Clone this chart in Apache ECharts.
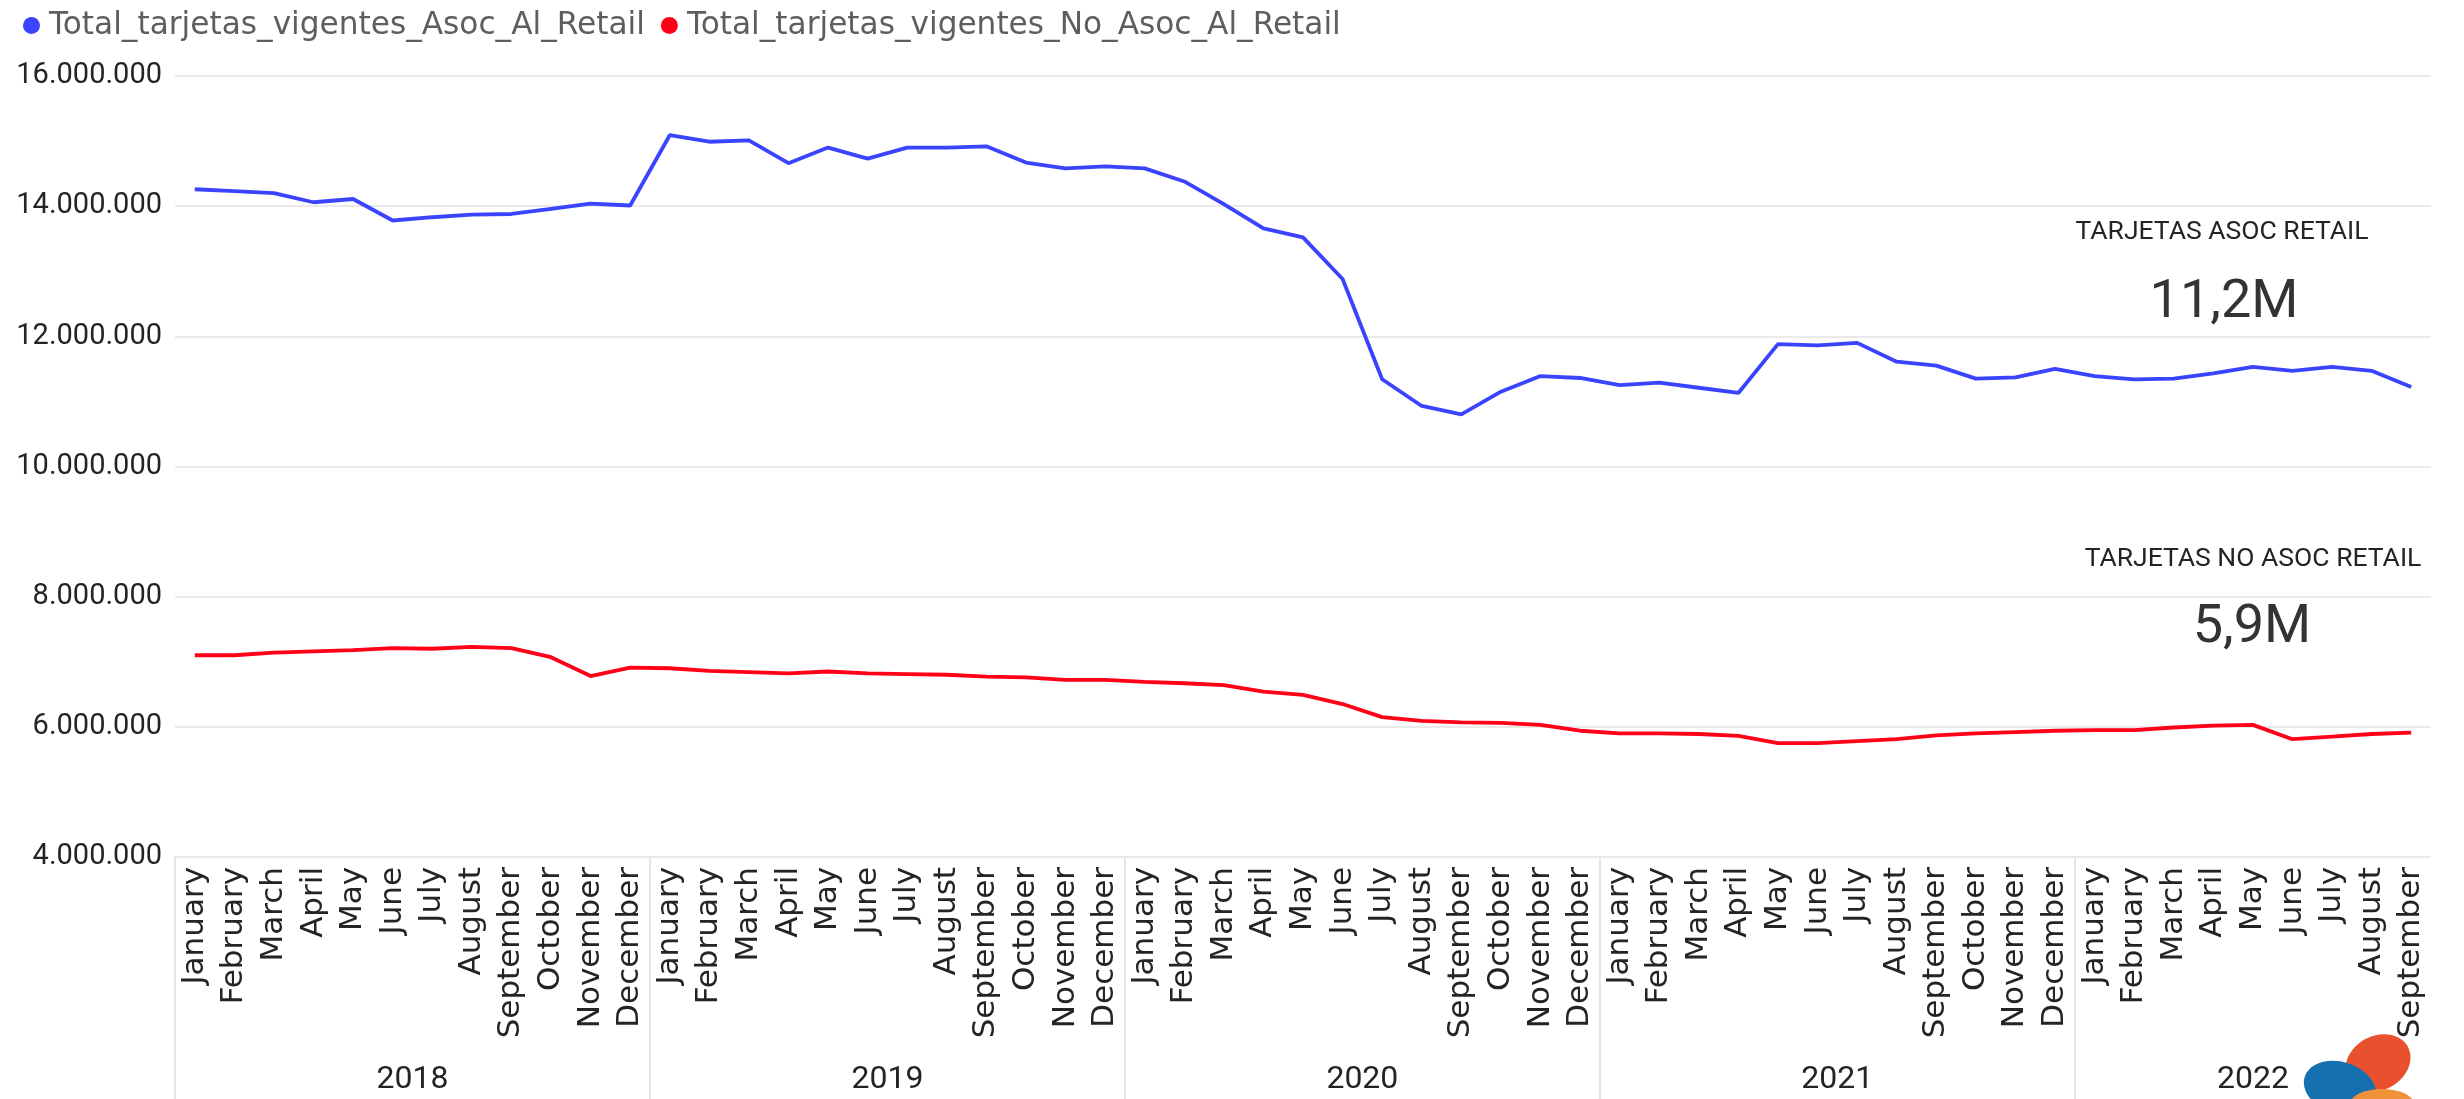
<!DOCTYPE html>
<html>
<head>
<meta charset="utf-8">
<script src="https://cdn.jsdelivr.net/npm/echarts@6/dist/echarts.min.js"></script>
<style>
  html, body { margin: 0; padding: 0; background: #fff; }
  #main { width: 2464px; height: 1099px; }
</style>
</head>
<body>
<div id="main"></div>
<script>
// datos (Jan 2018 - Sep 2022)
var monthNames = ["January", "February", "March", "April", "May", "June", "July",
  "August", "September", "October", "November", "December"];
var years = ["2018", "2019", "2020", "2021", "2022"];
var monthsPerYear = [12, 12, 12, 12, 9];

var asocRetail = [
  14260000, 14230000, 14200000, 14060000, 14110000, 13780000, 13830000, 13870000, 13880000, 13960000, 14040000, 14010000,
  15090000, 14990000, 15010000, 14660000, 14900000, 14730000, 14900000, 14900000, 14920000, 14670000, 14580000, 14610000,
  14580000, 14380000, 14030000, 13660000, 13520000, 12880000, 11340000, 10930000, 10800000, 11150000, 11390000, 11360000,
  11250000, 11290000, 11210000, 11130000, 11880000, 11860000, 11900000, 11610000, 11550000, 11350000, 11370000, 11500000,
  11390000, 11340000, 11350000, 11430000, 11530000, 11470000, 11530000, 11470000, 11220000
];
var noAsocRetail = [
  7100000, 7100000, 7140000, 7160000, 7180000, 7210000, 7200000, 7230000, 7210000, 7070000, 6780000, 6910000,
  6900000, 6860000, 6840000, 6820000, 6850000, 6820000, 6810000, 6800000, 6770000, 6760000, 6720000, 6720000,
  6690000, 6670000, 6640000, 6540000, 6490000, 6350000, 6150000, 6090000, 6070000, 6060000, 6030000, 5940000,
  5900000, 5900000, 5890000, 5860000, 5750000, 5750000, 5780000, 5810000, 5870000, 5900000, 5920000, 5940000,
  5950000, 5950000, 5990000, 6020000, 6030000, 5810000, 5850000, 5890000, 5910000
];
var yTicks = [4000000, 6000000, 8000000, 10000000, 12000000, 14000000, 16000000];

var nameAsoc = "Total_tarjetas_vigentes_Asoc_Al_Retail";
var nameNoAsoc = "Total_tarjetas_vigentes_No_Asoc_Al_Retail";

// eje de meses
var months = [];
monthsPerYear.forEach(function (n) {
  for (var i = 0; i < n; i++) months.push(monthNames[i]);
});

// eje de años: medio mes por posicion, etiqueta en el centro de cada año
var yearSlots = [];
var yearBounds = [];
var pos = 0;
monthsPerYear.forEach(function (n, k) {
  yearBounds.push(pos);
  for (var i = 0; i < n * 2; i++) yearSlots.push(i === n ? years[k] : "");
  pos += n * 2;
});
yearSlots.push("");

function fmtMiles(v) {
  return String(v).replace(/\B(?=(\d{3})+(?!\d))/g, ".");
}
function fmtM(v) {
  return (v / 1e6).toFixed(1).replace(".", ",") + "M";
}

var blue = "#3A44FF";
var red = "#FF0018";

var chart = echarts.init(document.getElementById("main"));
var option = {
  animation: false,
  backgroundColor: "#fff",
  legend: {
    left: 18,
    top: 5,
    icon: "circle",
    itemWidth: 17,
    itemHeight: 17,
    itemGap: 16,
    textStyle: { fontFamily: "DejaVu Sans", fontSize: 31.2, color: "#605E5C", padding: [0, 0, 0, 4] },
    data: [nameAsoc, nameNoAsoc]
  },
  grid: { left: 175, right: 33, top: 76, bottom: 242, containLabel: false },
  xAxis: [
    {
      type: "category",
      data: months,
      boundaryGap: true,
      axisLine: { show: false },
      axisTick: { show: false },
      axisLabel: {
        interval: 0,
        rotate: 90,
        margin: 10,
        fontFamily: "DejaVu Sans",
        fontSize: 31,
        color: "#252423"
      }
    },
    {
      type: "category",
      data: yearSlots,
      boundaryGap: false,
      position: "bottom",
      axisLine: { show: false },
      axisTick: {
        show: true,
        length: 242,
        interval: function (i) { return yearBounds.indexOf(i) >= 0; },
        lineStyle: { color: "#E6E6E6", width: 2 }
      },
      axisLabel: {
        interval: function (i, v) { return v !== ""; },
        margin: 207,
        fontFamily: "Roboto",
        fontSize: 32,
        color: "#252423"
      }
    }
  ],
  yAxis: {
    type: "value",
    min: yTicks[0],
    max: yTicks[yTicks.length - 1],
    interval: 2000000,
    axisLine: { show: false },
    axisTick: { show: false },
    splitLine: { lineStyle: { color: "#EAEAEA", width: 2 } },
    axisLabel: {
      margin: 13,
      fontFamily: "Roboto",
      fontSize: 29,
      color: "#252423",
      formatter: fmtMiles
    }
  },
  series: [
    {
      name: nameAsoc,
      type: "line",
      data: asocRetail,
      symbol: "none",
      itemStyle: { color: blue },
      lineStyle: { color: blue, width: 3.8 }
    },
    {
      name: nameNoAsoc,
      type: "line",
      data: noAsocRetail,
      symbol: "none",
      itemStyle: { color: red },
      lineStyle: { color: red, width: 3.8 }
    }
  ],
  graphic: [
    {
      type: "text", x: 2222, y: 232,
      style: { text: "TARJETAS ASOC RETAIL", font: "26.5px Roboto", fill: "#252423",
        textAlign: "center", textVerticalAlign: "middle" }
    },
    {
      type: "text", x: 2224, y: 303,
      style: { text: fmtM(asocRetail[asocRetail.length - 1]), font: "54px Roboto", fill: "#333",
        textAlign: "center", textVerticalAlign: "middle" }
    },
    {
      type: "text", x: 2253, y: 559,
      style: { text: "TARJETAS NO ASOC RETAIL", font: "26.5px Roboto", fill: "#252423",
        textAlign: "center", textVerticalAlign: "middle" }
    },
    {
      type: "text", x: 2252, y: 628,
      style: { text: fmtM(noAsocRetail[noAsocRetail.length - 1]), font: "54px Roboto", fill: "#333",
        textAlign: "center", textVerticalAlign: "middle" }
    },
    // logo parcial abajo a la derecha
    { type: "ellipse", x: 2378, y: 1063, rotation: 0.5, z: 10,
      shape: { cx: 0, cy: 0, rx: 34, ry: 27 }, style: { fill: "#E8502E" } },
    { type: "ellipse", x: 2340, y: 1088, rotation: -0.3, z: 11,
      shape: { cx: 0, cy: 0, rx: 37, ry: 26 }, style: { fill: "#1570B0" } },
    { type: "ellipse", x: 2382, y: 1104, rotation: 0, z: 12,
      shape: { cx: 0, cy: 0, rx: 32, ry: 15 }, style: { fill: "#F0923A" } }
  ]
};
chart.setOption(option);
</script>
</body>
</html>
